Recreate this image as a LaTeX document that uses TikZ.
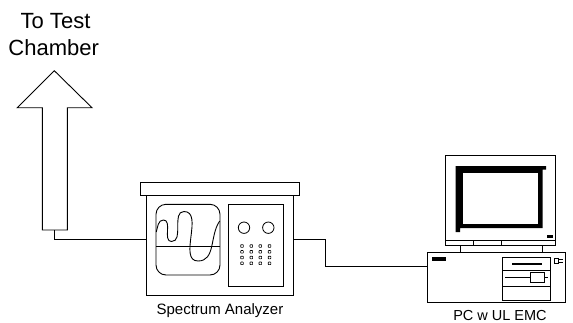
\documentclass[tikz,border=0pt]{standalone}
\usepackage{fontspec}
\setmainfont{Liberation Sans}

\tikzset{
  wire/.style={line width=0.8pt},
  part/.style={draw, line width=0.9pt},
  blackpart/.style={fill=black, draw=none},
  label/.style={inner sep=0pt, anchor=base}
}

\begin{document}
\begin{tikzpicture}[x=1pt, y=-1pt, line width=0.9pt]
\useasboundingbox (0,0) rectangle (573,322);

% Draw block arrow to the chamber
\draw (54.3,70.7) -- (92,107.7) -- (67.3,107.7) -- (67.3,230)
  -- (42.3,230) -- (42.3,107.7) -- (17.3,107.7) -- cycle;
\coordinate (arrow-foot) at (54.7,230);

\node[label, font=\fontsize{22}{26}\selectfont] (to-test) at (55.5,28.3) {To Test};
\node[label, font=\fontsize{22}{26}\selectfont] (chamber) at (53.7,55.7) {Chamber};

% Spectrum analyzer
\begin{scope}
  \draw[part] (140.7,182.7) rectangle (299.3,195);
  \draw[part] (146.7,195) rectangle (293.3,295.7);
  \coordinate (sa-in) at (146.7,239.3);
  \coordinate (sa-out) at (293.3,239.3);

  % screen with trace
  \draw[part, rounded corners=10pt] (156,204.3) rectangle (220,275);
  \draw[line width=0.8pt] (156,246) -- (220,246);
  \draw[line width=0.9pt] (156.3,232) to[out=75,in=180] (163.5,220)
    to[out=0,in=180] (171.5,241.5) to[out=0,in=180] (184,211.5)
    to[out=0,in=180] (198,261) to[out=0,in=235] (219.7,221);

  % control panel
  \draw[part] (228.3,204.3) rectangle (283.3,286.7);
  \draw[line width=0.8pt] (244,227.7) circle (5.7) (268.3,227.7) circle (5.7);
  \foreach \x in {242,251.3,260.3,269.5} {
    \foreach \y in {246,251.8,257.5,263.3} {
      \draw[line width=0.6pt, rounded corners=0.5pt] (\x-1.3,\y-1.3) rectangle (\x+1.3,\y+1.3);
    }
  }
\end{scope}

\node[label, font=\fontsize{15}{18}\selectfont] (sa-label) at (220,314) {Spectrum Analyzer};

% PC: monitor
\begin{scope}
  \draw[part] (445.7,155.7) rectangle (555.7,245);
  \draw (445.7,240) -- (555.7,240);
  \draw (473.3,240) -- (473.3,245) (501,240) -- (501,245);
  \fill[blackpart] (455.7,166) -- (546,166) -- (546,169.5) -- (542.5,169.5)
    -- (542.5,228) -- (460,228) -- (460,232) -- (455.7,232) -- cycle;
  \fill[white] (463.3,173.3) rectangle (538.3,224.3);
  \fill[blackpart] (547.3,235) rectangle (552.7,237.5);
  % stand
  \draw[part] (460,245) rectangle (542.5,252);
\end{scope}

% PC: tower
\begin{scope}
  \draw[part] (427.3,252) rectangle (565,302.7);
  \coordinate (pc-in) at (427.3,266);
  \fill[blackpart] (432.3,256.7) rectangle (446,260.7);
  % drive bay
  \draw[part] (502.7,257) rectangle (550.7,300);
  \draw (502.7,270) -- (550.7,270) (502.7,286) -- (550.7,286);
  \fill[blackpart] (512,263) rectangle (542.3,265);
  \draw (505,277.5) -- (548.3,277.5);
  \draw[fill=white] (530,272.5) rectangle (544,282.5);
  % buttons
  \draw[line width=0.7pt] (554,258.5) rectangle (558,263);
  \fill[blackpart] (559,258.5) rectangle (563,260.2);
  \fill[blackpart] (559,261.5) rectangle (563,263.2);
\end{scope}

\node[label, font=\fontsize{14.5}{17}\selectfont] (pc-label) at (500,320) {PC w UL EMC};

% Draw wires
\draw[wire] (arrow-foot) |- (sa-in);
\draw[wire] (sa-out) -| (325.5,252.7) |- (pc-in);

\end{tikzpicture}
\end{document}
